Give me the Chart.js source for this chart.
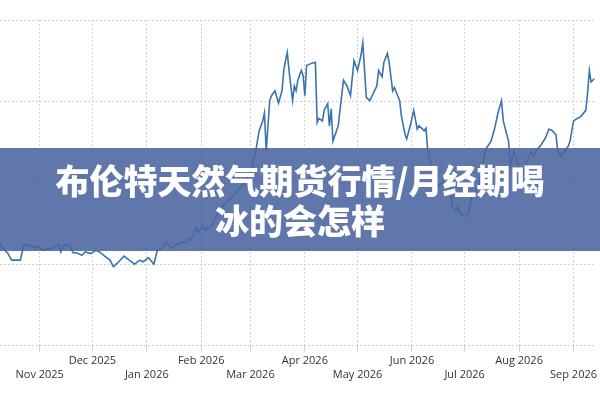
<!DOCTYPE html>
<html>
<head>
<meta charset="utf-8">
<script src="https://cdn.jsdelivr.net/npm/chart.js@4"></script>
<style>
  body { margin: 0; background: #fff; }
  #wrap { position: relative; width: 600px; height: 400px; }
  #banner {
    position: absolute; left: 0; top: 148px; width: 600px; height: 103px;
    background: rgba(74, 100, 160, 0.88); color: #fff;
    font-family: "Noto Sans CJK SC", sans-serif; font-weight: 900; font-size: 34px;
    line-height: 40px; text-align: center; padding-top: 12px; box-sizing: border-box;
  }
</style>
</head>
<body>
<div id="wrap">
  <canvas id="chart" width="600" height="400"></canvas>
  <div id="banner">布伦特天然气期货行情/月经期喝<br>冰的会怎样</div>
</div>
<script>
// days counted from 1 Oct 2025
const days = [8,10,13,15,20,22,25,29,31,33,37,39,42,43,45,48,50,52,55,57,60,63,65,68,71,73,76,79,82,85,88,90,93,96,98,101,103,106,109,112,115,116,117,120,121,124,125,128,130,132,134,136,138,141,144,147,150,152,154,156,158,159,160,162,163,165,167,169,170,171,172,173,175,176,177,178,180,181,182,183,186,188,189,190,192,193,195,196,197,198,201,202,204,206,208,210,212,214,215,217,219,221,223,224,226,227,229,230,232,233,236,237,239,240,242,244,246,247,250,251,252,254,256,258,260,263,265,266,268,269,271,273,275,277,278,281,283,285,288,290,292,294,295,298,299,301,302,303,305,307,308,311,312,314,316,319,321,323,325,326,328,330,332,333,335,337,339,342,343,344,345,347];
const prices = [32.7,32.0,31.3,30.5,30.5,32.4,32.3,32.1,32.1,31.7,31.9,32.1,32.5,31.5,32.4,32.3,31.4,31.4,31.1,31.5,31.3,31.7,31.5,31.0,30.5,29.7,30.3,31.0,30.5,30.0,30.5,30.3,30.8,30.0,31.7,32.0,32.7,32.0,32.4,32.7,32.7,33.1,33.0,34.5,33.9,34.7,34.2,34.5,35.2,36.1,36.7,37.3,37.7,38.3,39.2,39.8,40.8,42.0,43.9,46.4,47.6,48.6,43.9,50.1,50.7,51.3,49.8,51.3,53.8,55.0,56.0,53.8,50.1,51.9,51.3,52.6,53.8,53.2,50.7,54.4,54.7,54.8,47.4,47.9,47.6,48.9,49.7,47.0,49.1,45.1,47.0,48.9,52.6,51.9,50.7,55.0,53.8,55.7,57.2,50.5,50.1,51.0,51.9,53.8,53.0,54.8,55.9,54.8,51.3,51.7,50.1,48.2,46.0,45.4,47.0,48.9,46.6,47.0,46.4,46.7,43.9,42.0,40.4,39.6,40.0,40.8,39.0,37.1,36.5,37.1,36.0,35.9,36.2,38.3,38.3,39.8,42.0,44.1,45.1,46.6,48.6,50.1,47.6,45.1,42.0,43.9,43.3,42.7,40.2,41.4,42.4,43.9,43.3,44.1,44.5,45.5,46.6,46.4,45.9,43.9,43.3,43.9,44.5,45.1,47.6,47.9,48.1,48.9,51.0,53.8,52.4,52.8];
const monthDays = [31,61,92,123,151,182,212,243,273,304,335];
const monthLabels = ["Nov 2025","Dec 2025","Jan 2026","Feb 2026","Mar 2026","Apr 2026","May 2026","Jun 2026","Jul 2026","Aug 2026","Sep 2026"];
const yTicks = [20,30,40,50,60];

const points = days.map((d, i) => ({ x: d, y: prices[i] }));

new Chart(document.getElementById("chart").getContext("2d"), {
    type: "line",
    data: { datasets: [{ data: points, borderColor: "#3a74ad", borderWidth: 1.6, pointRadius: 0, tension: 0 }] },
    options: {
        responsive: false,
        animation: false,
        layout: { padding: { top: 20, bottom: 16 } },
        plugins: { legend: { display: false }, tooltip: { enabled: false } },
        scales: {
            x: {
                type: "linear", min: 8.4, max: 347,
                afterBuildTicks: (ax) => { ax.ticks = monthDays.map(v => ({ value: v })); },
                ticks: {
                    autoSkip: false, maxRotation: 0, color: "#333",
                    font: { family: "Open Sans", size: 11 },
                    callback: (v) => {
                        const i = monthDays.indexOf(v);
                        return i % 2 === 1 ? [monthLabels[i], ""] : ["", monthLabels[i]];
                    }
                },
                grid: { color: "#d0d0d0", tickLength: 6 },
                border: { display: false, dash: [2, 2] }
            },
            y: {
                min: 20, max: 60,
                afterBuildTicks: (ax) => { ax.ticks = yTicks.map(v => ({ value: v })); },
                ticks: { display: false },
                grid: { color: "#d0d0d0", drawTicks: false },
                border: { display: false, dash: [2, 2] }
            }
        }
    }
});
</script>
</body>
</html>
